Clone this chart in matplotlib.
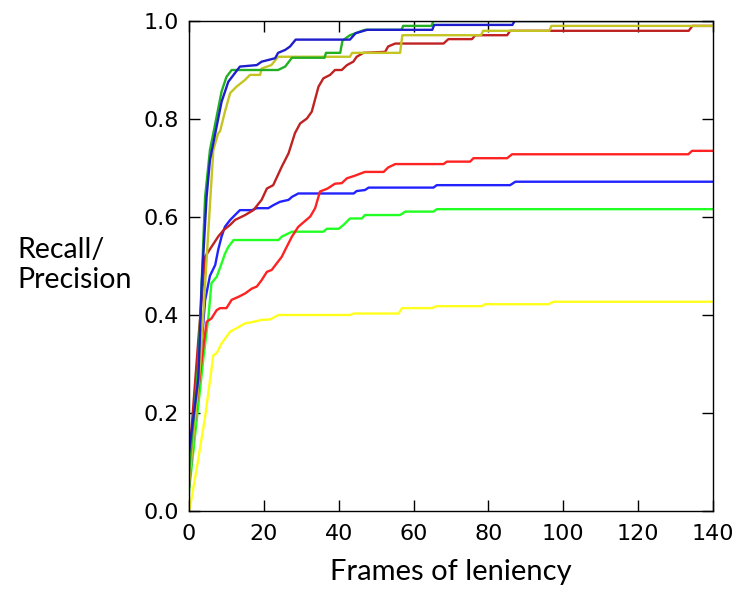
import matplotlib
matplotlib.use("Agg")
import matplotlib.pyplot as plt

# ---- data ----
# Upper curves
blue_dark_x = [0, 2.5, 3.4, 4.7, 5.6, 7.0, 8.7, 10.5, 13.6, 18.1, 19.4, 23.0, 23.8, 25.7, 27.0, 28.5, 43.0, 44.5, 47.6, 65.0, 65.5, 86.4, 87.0, 140]
blue_dark_y = [0.12, 0.27, 0.465, 0.641, 0.716, 0.77, 0.835, 0.876, 0.907, 0.910, 0.917, 0.924, 0.935, 0.941, 0.948, 0.962, 0.962, 0.975, 0.982, 0.982, 0.992, 0.992, 1.0, 1.0]

green_dark_x = [0, 2.5, 4.3, 5.6, 6.4, 8.7, 10.0, 11.4, 23.8, 25.7, 27.5, 36.2, 36.6, 40.4, 41.0, 43.0, 47.0, 56.8, 57.2, 64.8, 65.3, 140]
green_dark_y = [0.08, 0.3, 0.641, 0.737, 0.767, 0.856, 0.886, 0.900, 0.900, 0.907, 0.925, 0.925, 0.935, 0.935, 0.960, 0.971, 0.982, 0.982, 0.990, 0.990, 1.0, 1.0]

olive_x = [0, 3.0, 5.0, 6.5, 7.8, 8.3, 9.6, 11.0, 12.7, 15.0, 16.3, 19.0, 19.4, 22.0, 23.8, 43.0, 43.6, 56.4, 57.0, 78.0, 78.6, 96.3, 96.8, 140]
olive_y = [0.05, 0.3, 0.55, 0.737, 0.771, 0.775, 0.815, 0.853, 0.866, 0.880, 0.890, 0.890, 0.903, 0.910, 0.927, 0.927, 0.935, 0.935, 0.971, 0.971, 0.980, 0.980, 0.990, 0.990]

red_dark_x = [0, 2.5, 4.3, 6.0, 7.8, 9.2, 11.0, 12.3, 15.0, 17.2, 19.4, 20.8, 22.5, 24.8, 26.6, 28.3, 29.7, 31.5, 32.8, 34.6, 35.9, 37.7, 39.0, 40.8, 42.2, 43.9, 44.8, 46.6, 52.4, 53.2, 55.1, 68.0, 69.3, 75.6, 76.5, 85.0, 85.8, 133.5, 134.5, 140]
red_dark_y = [0.10, 0.35, 0.519, 0.539, 0.560, 0.573, 0.584, 0.594, 0.604, 0.614, 0.635, 0.658, 0.665, 0.703, 0.730, 0.771, 0.791, 0.801, 0.815, 0.866, 0.883, 0.890, 0.900, 0.900, 0.910, 0.917, 0.927, 0.935, 0.937, 0.948, 0.954, 0.954, 0.963, 0.963, 0.971, 0.971, 0.980, 0.980, 0.990, 0.990]

# Lower curves
red_x = [0, 3.4, 4.7, 6.0, 7.4, 8.3, 10.0, 11.4, 13.2, 15.0, 16.8, 18.1, 19.4, 20.8, 22.1, 23.4, 24.8, 25.7, 27.5, 29.2, 32.4, 33.7, 35.0, 37.0, 39.0, 40.8, 42.2, 44.2, 47.0, 52.0, 53.2, 55.1, 68.0, 68.9, 75.1, 76.0, 85.0, 86.3, 133.4, 134.4, 140]
red_y = [0.08, 0.308, 0.386, 0.393, 0.410, 0.414, 0.414, 0.431, 0.437, 0.444, 0.454, 0.458, 0.471, 0.488, 0.492, 0.505, 0.519, 0.533, 0.560, 0.580, 0.601, 0.618, 0.652, 0.658, 0.668, 0.669, 0.679, 0.684, 0.692, 0.692, 0.701, 0.708, 0.708, 0.713, 0.713, 0.720, 0.720, 0.728, 0.728, 0.735, 0.735]

blue_x = [0, 2.9, 4.3, 5.6, 7.0, 7.8, 8.7, 9.6, 11.0, 12.3, 13.6, 16.8, 18.1, 21.2, 22.5, 24.3, 26.6, 27.5, 29.2, 44.0, 44.8, 47.0, 48.0, 65.3, 66.2, 85.8, 87.2, 140]
blue_y = [0.05, 0.295, 0.43, 0.48, 0.502, 0.533, 0.560, 0.580, 0.594, 0.604, 0.614, 0.614, 0.618, 0.618, 0.624, 0.631, 0.635, 0.641, 0.648, 0.648, 0.653, 0.655, 0.660, 0.660, 0.665, 0.665, 0.672, 0.672]

green_x = [0, 3.8, 5.2, 6.0, 7.4, 8.7, 9.6, 10.5, 11.9, 23.9, 24.8, 27.5, 35.9, 36.8, 40.0, 41.3, 43.0, 46.2, 47.0, 56.4, 57.8, 65.3, 66.2, 140]
green_y = [0.04, 0.308, 0.397, 0.465, 0.478, 0.505, 0.525, 0.539, 0.553, 0.553, 0.560, 0.570, 0.570, 0.576, 0.576, 0.584, 0.597, 0.597, 0.604, 0.604, 0.611, 0.611, 0.616, 0.616]

yellow_x = [0, 0.3, 2.0, 4.3, 6.5, 7.4, 8.7, 11.0, 12.7, 15.0, 17.2, 19.4, 21.7, 23.9, 43.0, 44.0, 56.0, 56.9, 64.9, 66.2, 78.3, 79.1, 96.0, 97.4, 140]
yellow_y = [0.0, 0.009, 0.084, 0.192, 0.318, 0.322, 0.342, 0.366, 0.373, 0.383, 0.386, 0.390, 0.391, 0.400, 0.400, 0.403, 0.403, 0.414, 0.414, 0.418, 0.418, 0.422, 0.422, 0.427, 0.427]

x_ticks = [0, 20, 40, 60, 80, 100, 120, 140]
y_ticks = [0.0, 0.2, 0.4, 0.6, 0.8, 1.0]

# ---- figure ----
fig = plt.figure(figsize=(7.37, 5.90), dpi=100)
ax = fig.add_axes([189 / 737, 79 / 590, 524 / 737, 490 / 590])

lw = 1.7
ax.plot(yellow_x, yellow_y, color="#ffff1e", lw=lw)
ax.plot(green_x, green_y, color="#22ff22", lw=lw)
ax.plot(blue_x, blue_y, color="#2222ff", lw=lw)
ax.plot(red_x, red_y, color="#ff2222", lw=lw)
ax.plot(red_dark_x, red_dark_y, color="#c02222", lw=lw)
ax.plot(olive_x, olive_y, color="#c4c422", lw=lw)
ax.plot(green_dark_x, green_dark_y, color="#22b022", lw=lw)
ax.plot(blue_dark_x, blue_dark_y, color="#1e1ecc", lw=lw)

ax.set_xlim(0, 140)
ax.set_ylim(0, 1.0)
ax.set_xticks(x_ticks)
ax.set_yticks(y_ticks)
ax.set_xticklabels([str(v) for v in x_ticks])
ax.set_yticklabels(["%.1f" % v for v in y_ticks])

ax.tick_params(direction="in", top=True, right=True, length=8, width=1,
               labelsize=16, colors="black")
ax.tick_params(axis="x", pad=9)
ax.tick_params(axis="y", pad=7)
for s in ax.spines.values():
    s.set_linewidth(1.0)
    s.set_color("black")

ax.set_xlabel("Frames of leniency", family=["Lato", "DejaVu Sans"], fontsize=21, labelpad=11)
fig.text(17 / 737, 1 - 265 / 590, "Recall/\nPrecision", family=["Lato", "DejaVu Sans"],
         fontsize=20.5, ha="left", va="center", multialignment="left")

fig.savefig("out.png", dpi=100)
